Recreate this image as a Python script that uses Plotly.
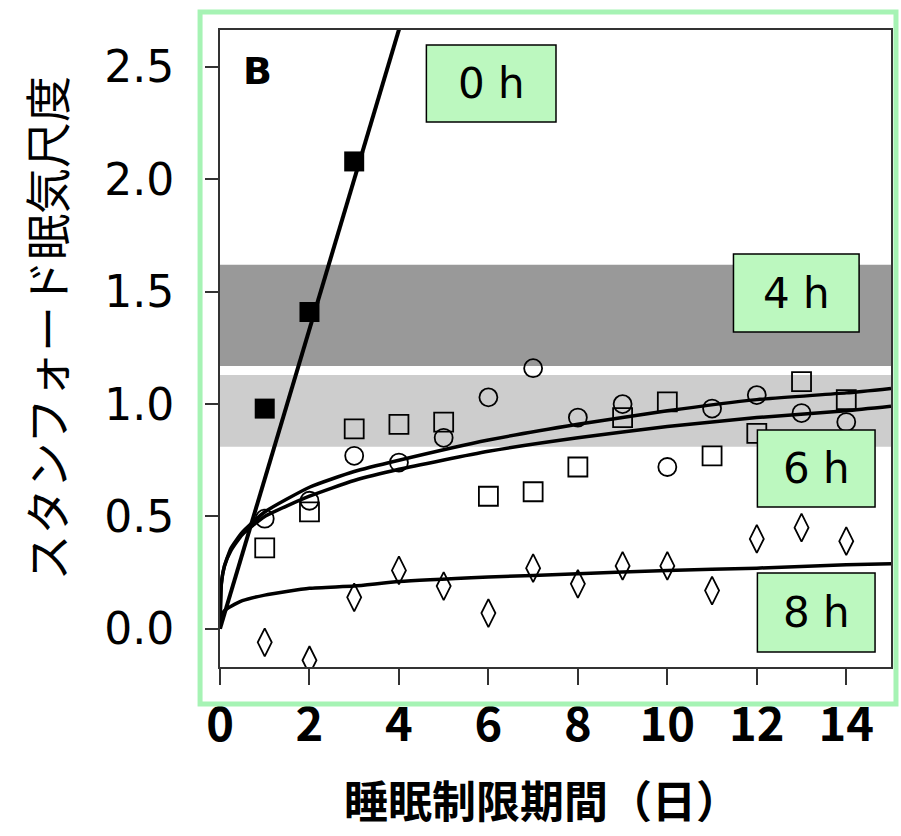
import plotly.graph_objects as go

# ---- data -------------------------------------------------------------
days = [1, 2, 3, 4, 5, 6, 7, 8, 9, 10, 11, 12, 13, 14]

# total sleep deprivation (0 h), days 1-3
days_0h = [1, 2, 3]
sss_0h = [0.98, 1.41, 2.08]
fit_0h_days = [0, 4.2]
fit_0h_vals = [0, 2.80]

# 4 h, 6 h, 8 h time-in-bed conditions
sss_4h = [0.49, 0.57, 0.77, 0.74, 0.85, 1.03, 1.16, 0.94, 1.00, 0.72, 0.98, 1.04, 0.96, 0.92]
sss_6h = [0.36, 0.52, 0.89, 0.91, 0.92, 0.59, 0.61, 0.72, 0.94, 1.01, 0.77, 0.87, 1.10, 1.02]
sss_8h = [-0.06, -0.14, 0.14, 0.26, 0.19, 0.07, 0.27, 0.20, 0.28, 0.28, 0.17, 0.40, 0.45, 0.39]

# fitted trend curves
fit_days = [0, 0.03, 0.1, 0.25, 0.5, 1, 2, 3, 4, 6, 8, 10, 12, 14, 15]
fit_4h = [0, 0.20, 0.28, 0.36, 0.43, 0.52, 0.63, 0.70, 0.75, 0.84, 0.91, 0.97, 1.02, 1.05, 1.07]
fit_6h = [0, 0.20, 0.28, 0.35, 0.42, 0.50, 0.59, 0.66, 0.71, 0.79, 0.85, 0.90, 0.94, 0.97, 0.99]
fit_8h = [0, 0.06, 0.08, 0.10, 0.125, 0.15, 0.18, 0.19, 0.21, 0.23, 0.245, 0.26, 0.27, 0.285, 0.29]

# shaded ranges after 1 and 2 nights of total sleep deprivation
band_dark = [1.17, 1.62]
band_light = [0.81, 1.13]

group_labels = ["0 h", "4 h", "6 h", "8 h"]

x_ticks = [0, 2, 4, 6, 8, 10, 12, 14]
y_ticks = [0.0, 0.5, 1.0, 1.5, 2.0, 2.5]
y_tick_text = ["0.0", "0.5", "1.0", "1.5", "2.0", "2.5"]

# ---- layout geometry (pixels) ------------------------------------------
W, H = 901, 836
L, R, T, B = 220, 893, 30, 667


def px(x):
    return (x - L) / (R - L)


def py(y):
    return (B - y) / (B - T)


fig = go.Figure()

line_style = dict(color="black", width=3.5)

fig.add_trace(go.Scatter(x=fit_days, y=fit_4h, mode="lines", line=dict(shape="spline", smoothing=0.5, **line_style), showlegend=False))
fig.add_trace(go.Scatter(x=fit_days, y=fit_6h, mode="lines", line=dict(shape="spline", smoothing=0.5, **line_style), showlegend=False))
fig.add_trace(go.Scatter(x=fit_days, y=fit_8h, mode="lines", line=dict(shape="spline", smoothing=0.5, **line_style), showlegend=False))
fig.add_trace(go.Scatter(x=fit_0h_days, y=fit_0h_vals, mode="lines", line=dict(color="black", width=4), showlegend=False))

fig.add_trace(go.Scatter(x=days, y=sss_4h, mode="markers",
                         marker=dict(symbol="circle-open", size=18, color="black", line=dict(width=1.8)),
                         showlegend=False))
fig.add_trace(go.Scatter(x=days, y=sss_6h, mode="markers",
                         marker=dict(symbol="square-open", size=19, color="black", line=dict(width=1.8)),
                         showlegend=False))
fig.add_trace(go.Scatter(x=days, y=sss_8h, mode="markers",
                         marker=dict(symbol="diamond-tall-open", size=20, color="black", line=dict(width=1.8)),
                         showlegend=False))
fig.add_trace(go.Scatter(x=days_0h, y=sss_0h, mode="markers",
                         marker=dict(symbol="square", size=20, color="black"),
                         showlegend=False))

shapes = [
    dict(type="rect", xref="paper", yref="y", x0=0, x1=1, y0=band_dark[0], y1=band_dark[1],
         fillcolor="#999999", line=dict(width=0), layer="below"),
    dict(type="rect", xref="paper", yref="y", x0=0, x1=1, y0=band_light[0], y1=band_light[1],
         fillcolor="#cdcdcd", line=dict(width=0), layer="below"),
    # outer green frame
    dict(type="rect", xref="paper", yref="paper", x0=px(200), x1=px(898), y0=py(704), y1=py(12),
         line=dict(color="#a6f3b4", width=5), fillcolor="rgba(0,0,0,0)", layer="above"),
]

# label boxes (left, top, right, bottom in pixels)
boxes = [(427, 45, 557, 122), (735, 254, 861, 332), (759, 430, 877, 507), (759, 573, 877, 652)]
annotations = []
for (x0, y0, x1, y1), lab in zip(boxes, group_labels):
    shapes.append(dict(type="rect", xref="paper", yref="paper", x0=px(x0), x1=px(x1), y0=py(y1), y1=py(y0),
                       fillcolor="#bcf8bf", line=dict(color="black", width=1.5), layer="above"))
    annotations.append(dict(xref="paper", yref="paper", x=px((x0 + x1) / 2), y=py((y0 + y1) / 2),
                            text=lab, showarrow=False, xanchor="center", yanchor="middle",
                            font=dict(family="DejaVu Sans", size=42, color="black")))

annotations.append(dict(xref="paper", yref="paper", x=px(258), y=py(71), text="B", showarrow=False,
                        xanchor="center", yanchor="middle",
                        font=dict(family="DejaVu Sans", size=38, color="black", weight="bold")))
annotations.append(dict(xref="paper", yref="paper", x=px(543), y=py(799), text="睡眠制限期間（日）",
                        showarrow=False, xanchor="center", yanchor="middle",
                        font=dict(family="Noto Sans CJK JP", size=44, color="black", weight="bold")))
annotations.append(dict(xref="paper", yref="paper", x=px(44), y=py(328), text="スタンフォード眠気尺度",
                        showarrow=False, xanchor="center", yanchor="middle", textangle=-90,
                        font=dict(family="Noto Sans CJK JP", size=46, color="black")))

fig.update_layout(
    width=W, height=H,
    margin=dict(l=L, r=W - R, t=T, b=H - B),
    paper_bgcolor="white", plot_bgcolor="white",
    shapes=shapes, annotations=annotations,
    xaxis=dict(range=[0, 15], tickvals=x_ticks, ticks="outside", ticklen=16, tickwidth=1.5,
               tickcolor="#333", showline=True, linecolor="#333", linewidth=2, mirror=True,
               showgrid=False, zeroline=False, ticklabelstandoff=0,
               tickfont=dict(family="Noto Sans CJK JP", size=47, color="black", weight="bold")),
    yaxis=dict(range=[-0.17, 2.665], tickvals=y_ticks, ticktext=y_tick_text, ticks="outside", ticklen=13,
               tickwidth=1.5, tickcolor="#333", showline=True, linecolor="#333", linewidth=2, mirror=True,
               showgrid=False, zeroline=False, ticklabelstandoff=22,
               tickfont=dict(family="DejaVu Sans", size=44, color="black")),
)

fig.write_html("out.html")
